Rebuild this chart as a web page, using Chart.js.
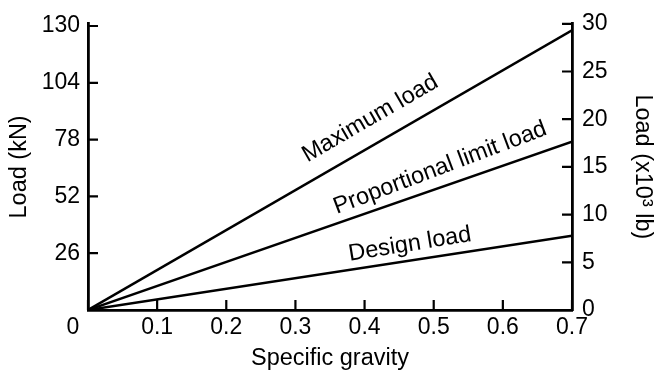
<!DOCTYPE html>
<html>
<head>
<meta charset="utf-8">
<script src="https://cdn.jsdelivr.net/npm/chart.js@4.4.1/dist/chart.umd.min.js"></script>
<style>
    html, body { margin: 0; padding: 0; background: #fff; }
    #wrap { width: 654px; height: 376px; }
</style>
</head>
<body>
<div id="wrap"><canvas id="loadChart" width="654" height="376"></canvas></div>
<script>
// values
const gravity = [0, 0.7];
const maxLoad = [0, 128];
const propLoad = [0, 77];
const designLoad = [0, 34];

const seriesNames = ['Maximum load', 'Proportional limit load', 'Design load'];
const xTicks = [0, 0.1, 0.2, 0.3, 0.4, 0.5, 0.6, 0.7];
const kNTicks = [26, 52, 78, 104, 130];
const lbTicks = [0, 5, 10, 15, 20, 25, 30];

// where the in-plot labels sit along each line
const labelAt = [0.426, 0.518, 0.469];
const labelGap = [24.5, 18.5, 16];
const labelTilt = [0, -1.5, -0.6];

const FONT = '"Liberation Sans", Arial, Helvetica, sans-serif';
Chart.defaults.font.family = FONT;
Chart.defaults.color = '#000';

const tickFont = { family: FONT, size: 23 };
const titleFont = { family: FONT, size: 23.5, lineHeight: 1 };

const ctx = document.getElementById('loadChart').getContext('2d');

function pts(ys) {
    return gravity.map((g, i) => ({ x: g, y: ys[i] }));
}

const lineLabelPlugin = {
    id: 'lineLabels',
    afterDatasetsDraw(chart) {
        const c = chart.ctx;
        const xs = chart.scales.x;
        c.save();
        c.fillStyle = '#000';
        c.font = '23.5px ' + FONT;
        c.textAlign = 'center';
        c.textBaseline = 'middle';
        chart.data.datasets.forEach((ds, i) => {
            const meta = chart.getDatasetMeta(i);
            const p0 = meta.data[0], p1 = meta.data[meta.data.length - 1];
            const a = Math.atan2(p1.y - p0.y, p1.x - p0.x);
            const px = xs.getPixelForValue(labelAt[i]);
            const t = (px - p0.x) / (p1.x - p0.x);
            const py = p0.y + t * (p1.y - p0.y);
            const cx = px + Math.sin(a) * labelGap[i];
            const cy = py - Math.cos(a) * labelGap[i];
            c.save();
            c.translate(cx, cy);
            c.rotate(a + labelTilt[i] * Math.PI / 180);
            c.fillText(seriesNames[i], 0, 0);
            c.restore();
        });
        c.restore();
    }
};

// tick marks point into the plot, so draw them ourselves
const innerTicksPlugin = {
    id: 'innerTicks',
    afterDraw(chart) {
        const c = chart.ctx;
        const area = chart.chartArea;
        const len = 10;
        c.save();
        c.strokeStyle = '#000';
        c.lineWidth = 2.2;
        c.beginPath();
        chart.scales.x.ticks.forEach(tk => {
            const x = chart.scales.x.getPixelForValue(tk.value);
            c.moveTo(x, area.bottom);
            c.lineTo(x, area.bottom - len);
        });
        chart.scales.yKN.ticks.forEach(tk => {
            const y = chart.scales.yKN.getPixelForValue(tk.value);
            c.moveTo(area.left, y);
            c.lineTo(area.left + len, y);
        });
        chart.scales.yLb.ticks.forEach(tk => {
            const y = chart.scales.yLb.getPixelForValue(tk.value);
            c.moveTo(area.right, y);
            c.lineTo(area.right - len, y);
        });
        c.stroke();
        // shared zero at the corner
        c.fillStyle = '#000';
        c.font = tickFont.size + 'px ' + FONT;
        c.textAlign = 'center';
        c.textBaseline = 'top';
        c.fillText('0', area.left - 15, area.bottom + 6);
        c.restore();
    }
};

new Chart(ctx, {
    type: 'line',
    data: {
        datasets: [
            { label: seriesNames[0], data: pts(maxLoad), yAxisID: 'yKN' },
            { label: seriesNames[1], data: pts(propLoad), yAxisID: 'yKN' },
            { label: seriesNames[2], data: pts(designLoad), yAxisID: 'yKN' }
        ].map(d => Object.assign(d, {
            borderColor: '#000',
            borderWidth: 2.5,
            pointRadius: 0,
            fill: false,
            tension: 0
        }))
    },
    options: {
        responsive: false,
        animation: false,
        layout: { padding: { top: 13, left: 0, right: 0, bottom: 0 } },
        plugins: {
            legend: { display: false },
            tooltip: { enabled: false }
        },
        scales: {
            x: {
                type: 'linear',
                min: 0,
                max: 0.7,
                afterBuildTicks: s => { s.ticks = xTicks.map(v => ({ value: v })); },
                afterFit: s => { s.height = 66; },
                ticks: {
                    font: tickFont,
                    padding: 4,
                    maxRotation: 0,
                    autoSkip: false,
                    callback: v => (v === 0 ? '' : v.toFixed(1))
                },
                grid: { display: false, drawTicks: false },
                border: { display: true, color: '#000', width: 2.8 },
                title: { display: true, text: 'Specific gravity', font: titleFont, padding: { top: 6, bottom: 6 } }
            },
            yKN: {
                type: 'linear',
                position: 'left',
                min: 0,
                max: 131,
                afterBuildTicks: s => { s.ticks = kNTicks.map(v => ({ value: v })); },
                afterFit: s => { s.width = 88; },
                ticks: { font: tickFont, padding: 8 },
                grid: { display: false, drawTicks: false },
                border: { display: true, color: '#000', width: 2.8 },
                title: { display: true, text: 'Load (kN)', font: titleFont, padding: { top: 8, bottom: 0 } }
            },
            yLb: {
                type: 'linear',
                position: 'right',
                min: 0,
                max: 30,
                afterBuildTicks: s => { s.ticks = lbTicks.map(v => ({ value: v })); },
                afterFit: s => { s.width = 82; },
                ticks: { font: tickFont, padding: 10 },
                grid: { display: false, drawTicks: false },
                border: { display: true, color: '#000', width: 2.8 },
                title: { display: true, text: 'Load (x10³ lb)', font: titleFont, padding: { top: 0, bottom: 0 } }
            }
        }
    },
    plugins: [lineLabelPlugin, innerTicksPlugin]
});
</script>
</body>
</html>
